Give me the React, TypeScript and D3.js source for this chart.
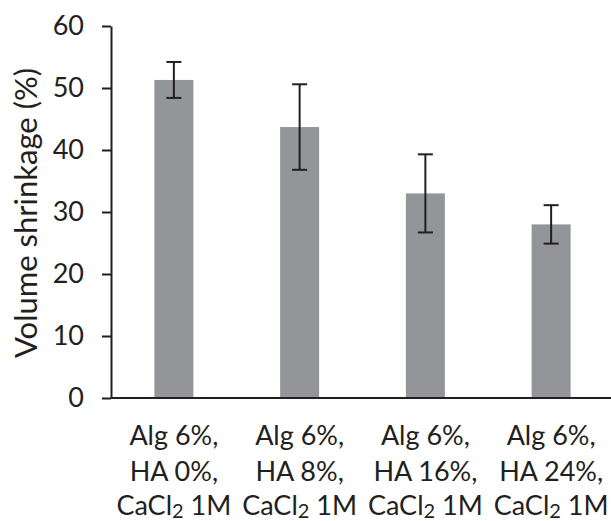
import React, { useEffect, useRef } from 'react';
import * as d3 from 'd3';

const labelLine1 = ['Alg 6%,', 'Alg 6%,', 'Alg 6%,', 'Alg 6%,'];
const labelLine2 = ['HA 0%,', 'HA 8%,', 'HA 16%,', 'HA 24%,'];
const categories = ['HA 0%', 'HA 8%', 'HA 16%', 'HA 24%'];
const shrinkage = [51.3, 43.7, 33.0, 28.0];
const errors = [2.9, 6.9, 6.3, 3.1];
const yTicks = [0, 10, 20, 30, 40, 50, 60];

const W = 611;
const H = 521;
const FONT = 'Lato, "Open Sans", sans-serif';
const FS = 27;
const TEXT = '#231f20';

export default function App() {
  const svgRef = useRef<SVGSVGElement>(null);

  useEffect(() => {
    const svg = d3.select(svgRef.current);
    svg.selectAll('*').remove();

    const left = 111, right = 614, top = 26, bottom = 398;

    const x = d3.scaleBand<string>()
      .domain(categories)
      .range([left, right])
      .paddingInner(0.69)
      .paddingOuter(0.345);

    const y = d3.scaleLinear().domain([0, 60]).range([bottom, top]);

    // bars
    svg.append('g')
      .selectAll('rect')
      .data(shrinkage)
      .enter().append('rect')
      .attr('x', (d, i) => x(categories[i])!)
      .attr('y', d => y(d))
      .attr('width', x.bandwidth())
      .attr('height', d => bottom - y(d))
      .attr('fill', '#939598');

    // error bars
    const eb = svg.append('g').attr('stroke', TEXT).attr('stroke-width', 2);
    shrinkage.forEach((v, i) => {
      const cx = x(categories[i])! + x.bandwidth() / 2;
      eb.append('line').attr('x1', cx).attr('x2', cx).attr('y1', y(v + errors[i])).attr('y2', y(v - errors[i]));
      eb.append('line').attr('x1', cx - 7.5).attr('x2', cx + 7.5).attr('y1', y(v + errors[i])).attr('y2', y(v + errors[i]));
      eb.append('line').attr('x1', cx - 7.5).attr('x2', cx + 7.5).attr('y1', y(v - errors[i])).attr('y2', y(v - errors[i]));
    });

    // y axis
    const yAxis = svg.append('g')
      .attr('transform', `translate(${left},0)`)
      .call(d3.axisLeft(y).tickValues(yTicks).tickSize(9).tickPadding(18).tickSizeOuter(0));
    yAxis.select('.domain').attr('stroke', TEXT).attr('stroke-width', 2);
    yAxis.selectAll('.tick line').attr('stroke', TEXT).attr('stroke-width', 2);
    yAxis.selectAll('.tick text')
      .attr('font-family', FONT)
      .attr('font-size', FS)
      .attr('fill', TEXT);

    // x axis line
    svg.append('line')
      .attr('x1', left).attr('x2', W)
      .attr('y1', bottom).attr('y2', bottom)
      .attr('stroke', TEXT).attr('stroke-width', 2);

    // x labels
    const xl = svg.append('g')
      .attr('font-family', FONT)
      .attr('font-size', FS)
      .attr('fill', TEXT)
      .attr('text-anchor', 'middle');
    categories.forEach((c, i) => {
      const cx = x(c)! + x.bandwidth() / 2;
      xl.append('text').attr('x', cx).attr('y', 445).text(labelLine1[i]);
      xl.append('text').attr('x', cx).attr('y', 481).text(labelLine2[i]);
      const t = xl.append('text').attr('x', cx).attr('y', 515);
      t.append('tspan').text('CaCl');
      t.append('tspan').attr('dy', 3).attr('font-size', 20).text('2');
      t.append('tspan').attr('dy', -3).text(' 1M');
    });

    // y title
    svg.append('text')
      .attr('transform', `translate(37,213) rotate(-90)`)
      .attr('text-anchor', 'middle')
      .attr('font-family', FONT)
      .attr('font-size', 31)
      .attr('fill', TEXT)
      .text('Volume shrinkage (%)');
  }, []);

  return (
    <svg ref={svgRef} width={W} height={H}
      style={{ position: 'absolute', left: 0, top: 0, background: '#fff' }} />
  );
}
